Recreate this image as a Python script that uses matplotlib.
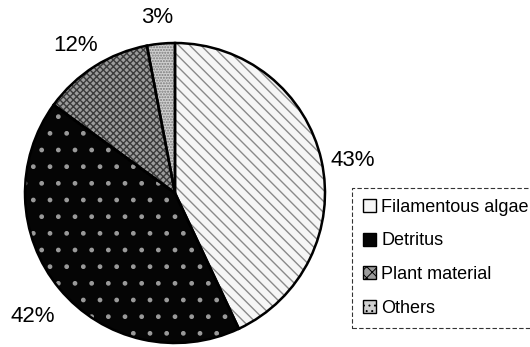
import matplotlib
matplotlib.use("Agg")
import matplotlib.pyplot as plt
from matplotlib.patches import Wedge, Patch

plt.rcParams['font.family'] = ['Liberation Sans', 'DejaVu Sans']

# data
categories = ["Filamentous algae", "Detritus", "Plant material", "Others"]
shares = [43, 42, 12, 3]

# styles per slice: face, hatch, hatch colour
faces = ["#f6f6f6", "#050505", "#9c9c9c", "#d0d0d0"]
hatches = ["\\\\\\", ".", "xxxxx", "......"]
hatch_cols = ["#8a8a8a", "#9a9a9a", "#3a3a3a", "#7a7a7a"]

fig = plt.figure(figsize=(5.3, 3.47), dpi=100)
ax = fig.add_axes([0, 0, 1, 1])

wedges, texts, pcts = ax.pie(shares, startangle=90, counterclock=False,
                             center=(175, 154), radius=150,
                             autopct='%1.0f%%', pctdistance=1.22,
                             textprops={'fontsize': 16, 'color': 'black'})

# labels sit a little lower than the plain pctdistance ring
for t in pcts:
    x, y = t.get_position()
    t.set_position((x - 1, y - 7))

plt.rcParams['hatch.linewidth'] = 0.7
for w, fc, h, hc in zip(wedges, faces, hatches, hatch_cols):
    w.set_facecolor(fc)
    w.set_hatch(h)
    w.set_edgecolor(hc)
    w.set_linewidth(0)
    # black outline on top
    ax.add_patch(Wedge(w.center, w.r, w.theta1, w.theta2, facecolor='none',
                       edgecolor='black', linewidth=1.8, zorder=3))

ax.set_xlim(0, 530)
ax.set_ylim(0, 347)
ax.set_aspect('equal')
ax.axis('off')

handles = [Patch(facecolor=fc, edgecolor='black', hatch=(None if i < 2 else h), linewidth=1)
           for i, (fc, h) in enumerate(zip(faces, ["", "", "xxx", "..."]))]
leg = ax.legend(handles, categories, loc='upper left',
                bbox_to_anchor=(352 / 530, 1 - 188 / 347),
                fontsize=13, frameon=True, fancybox=False,
                handlelength=0.72, handleheight=0.72, handletextpad=0.3,
                labelspacing=0.92, borderpad=0.6, borderaxespad=0)
frame = leg.get_frame()
frame.set_edgecolor('black')
frame.set_linestyle((0, (4, 2)))
frame.set_linewidth(0.8)

fig.savefig("out.png", dpi=100)
